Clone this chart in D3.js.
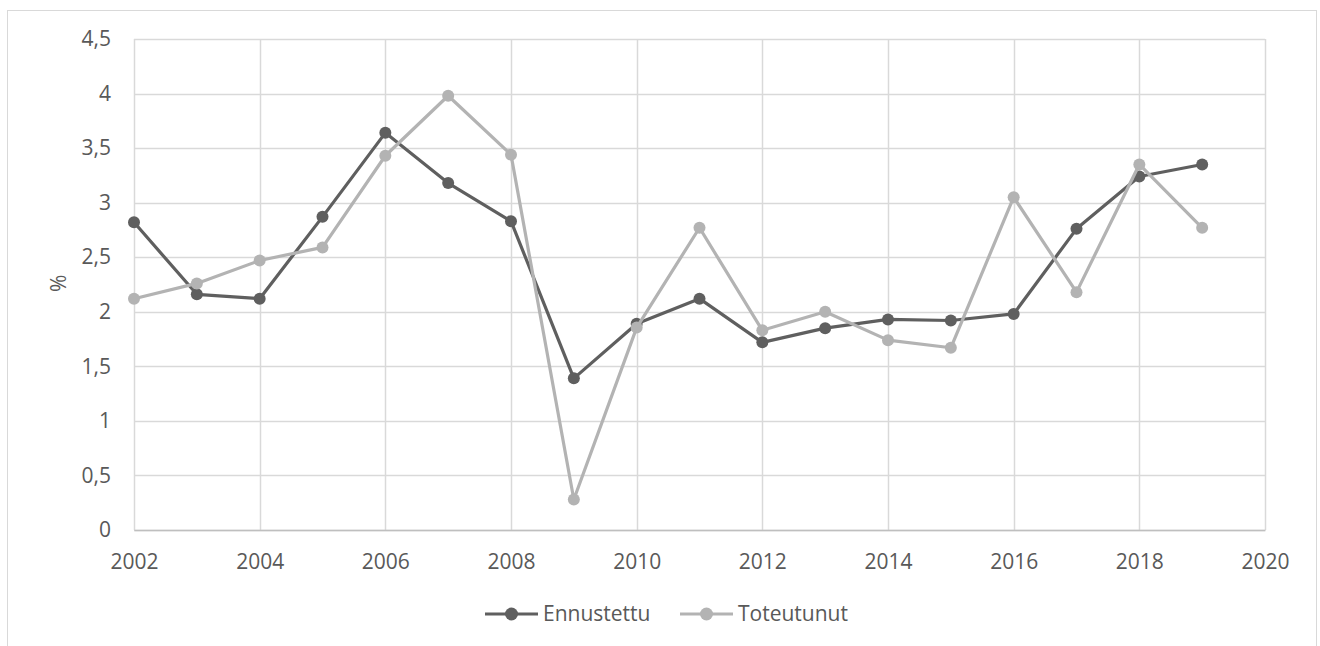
<!DOCTYPE html>
<html>
<head>
<meta charset="utf-8">
<script src="https://cdn.jsdelivr.net/npm/d3@7"></script>
<style>
  body { margin: 0; background: #fff; }
  text { font-family: "Open Sans", sans-serif; fill: #595959; }
</style>
</head>
<body>
<svg id="chart" width="1320" height="646"></svg>
<script>
// data
let years = [2002, 2003, 2004, 2005, 2006, 2007, 2008, 2009, 2010, 2011, 2012, 2013, 2014, 2015, 2016, 2017, 2018, 2019];
let ennustettu = [2.82, 2.16, 2.12, 2.87, 3.64, 3.18, 2.83, 1.39, 1.89, 2.12, 1.72, 1.85, 1.93, 1.92, 1.98, 2.76, 3.24, 3.35];
let toteutunut = [2.12, 2.26, 2.47, 2.59, 3.43, 3.98, 3.44, 0.28, 1.855, 2.77, 1.83, 2.0, 1.74, 1.67, 3.05, 2.18, 3.35, 2.77];
let xTicks = [2002, 2004, 2006, 2008, 2010, 2012, 2014, 2016, 2018, 2020];
let yTicks = [0, 0.5, 1, 1.5, 2, 2.5, 3, 3.5, 4, 4.5];
let seriesNames = ["Ennustettu", "Toteutunut"];

let colorDark = "#5f5f5f",
    colorLight = "#b3b3b3",
    colorGrid = "#d9d9d9",
    fontSize = "21px";

let svg = d3.select("#chart"),
    margin = {top: 39, right: 55, bottom: 116, left: 134},
    width = 1320 - margin.left - margin.right,
    height = 646 - margin.top - margin.bottom;

// outer chart frame (bottom runs off the picture)
svg.append("rect")
  .attr("x", 7.5).attr("y", 10.5)
  .attr("width", 1309).attr("height", 700)
  .attr("fill", "none")
  .attr("stroke", colorGrid);

let g = svg.append("g").attr("transform", "translate(" + margin.left + "," + margin.top + ")");

let x = d3.scaleLinear().domain([2002, 2020]).range([0, width]),
    y = d3.scaleLinear().domain([0, 4.5]).range([height, 0]);

let fmt = function(d) { return String(d).replace(".", ","); };

// gridlines
g.append("g")
  .selectAll("line.h")
  .data(yTicks)
  .enter().append("line")
  .attr("x1", 0).attr("x2", width)
  .attr("y1", function(d) { return Math.round(y(d)) + 0.5; })
  .attr("y2", function(d) { return Math.round(y(d)) + 0.5; })
  .attr("stroke", colorGrid).attr("stroke-width", 1.5);

g.append("g")
  .selectAll("line.v")
  .data(xTicks)
  .enter().append("line")
  .attr("y1", 0).attr("y2", height)
  .attr("x1", function(d) { return Math.round(x(d)) + 0.5; })
  .attr("x2", function(d) { return Math.round(x(d)) + 0.5; })
  .attr("stroke", colorGrid).attr("stroke-width", 1.5);

// x axis
let xAxis = g.append("g")
  .attr("transform", "translate(0," + height + ")")
  .call(d3.axisBottom(x).tickValues(xTicks).tickFormat(d3.format("d")).tickSize(0).tickPadding(24));
xAxis.select(".domain").attr("stroke", "#bfbfbf").attr("stroke-width", 1.5);
xAxis.selectAll("text").style("font-size", fontSize).attr("fill", "#595959");

// y axis
let yAxis = g.append("g")
  .call(d3.axisLeft(y).tickValues(yTicks).tickFormat(fmt).tickSize(0).tickPadding(23));
yAxis.select(".domain").remove();
yAxis.selectAll("text").style("font-size", fontSize).attr("fill", "#595959");

svg.append("text")
  .attr("transform", "translate(66," + (margin.top + y(2.5) + 26) + ") rotate(-90)")
  .attr("text-anchor", "middle")
  .style("font-size", fontSize)
  .text("%");

// series
let series = [
  {name: seriesNames[0], values: ennustettu, color: colorDark},
  {name: seriesNames[1], values: toteutunut, color: colorLight}
];

let line = d3.line()
  .x(function(d, i) { return x(years[i]); })
  .y(function(d) { return y(d); });

series.forEach(function(s) {
  g.append("path")
    .datum(s.values)
    .attr("d", line)
    .attr("fill", "none")
    .attr("stroke", s.color)
    .attr("stroke-width", 3.2)
    .attr("stroke-linejoin", "round");

  g.selectAll(".dot-" + s.name)
    .data(s.values)
    .enter().append("circle")
    .attr("cx", function(d, i) { return x(years[i]); })
    .attr("cy", function(d) { return y(d); })
    .attr("r", 6)
    .attr("fill", s.color);
});

// legend
let legend = svg.append("g").attr("transform", "translate(485,614)");
let legendX = [0, 195];
series.forEach(function(s, i) {
  let item = legend.append("g").attr("transform", "translate(" + legendX[i] + ",0)");
  item.append("line")
    .attr("x1", 0).attr("x2", 53)
    .attr("stroke", s.color).attr("stroke-width", 3.2);
  item.append("circle")
    .attr("cx", 26.5).attr("r", 6.5)
    .attr("fill", s.color);
  item.append("text")
    .attr("x", 58).attr("dy", "0.35em")
    .style("font-size", fontSize)
    .text(s.name);
});
</script>
</body>
</html>
